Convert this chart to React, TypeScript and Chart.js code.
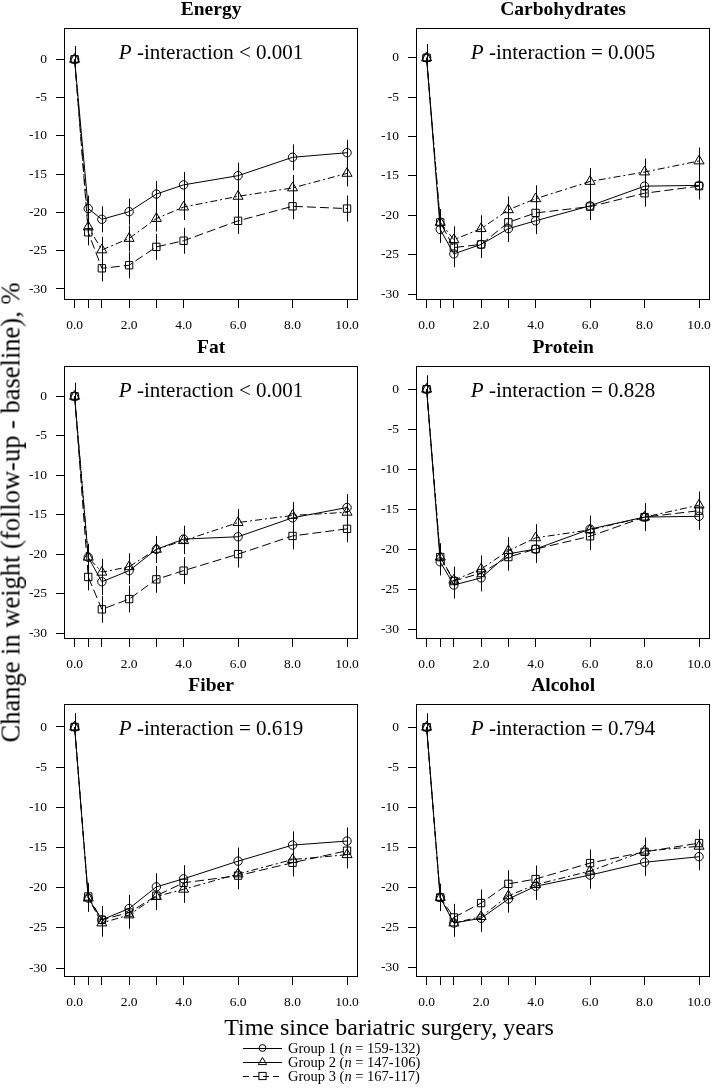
import React, { useEffect, useRef } from "react";
import { Chart, registerables } from "chart.js";

Chart.register(...registerables);

// ---------- data ----------
const years = [0, 0.5, 1, 2, 3, 4, 6, 8, 10];
const xTickValues = [0, 0.5, 1, 2, 3, 4, 6, 8, 10];
const xTickLabels = ["0.0", "", "", "2.0", "", "4.0", "6.0", "8.0", "10.0"];
const yTickValues = [0, -5, -10, -15, -20, -25, -30];
const yTickLabels = ["0", "-5", "-10", "-15", "-20", "-25", "-30"];

const groupNames = ["Group 1", "Group 2", "Group 3"];
const groupN = ["159-132", "147-106", "167-117"];

const energyG1 = [0, -19.5, -20.9, -19.9, -17.6, -16.4, -15.2, -12.8, -12.2];
const energyG2 = [0, -21.9, -24.9, -23.4, -20.8, -19.3, -17.9, -16.8, -14.9];
const energyG3 = [0, -22.6, -27.3, -26.9, -24.5, -23.7, -21.1, -19.2, -19.5];

const carbG1 = [0, -21.8, -24.9, -23.7, -21.7, -20.7, -18.8, -16.3, -16.2];
const carbG2 = [0, -20.9, -23.1, -21.7, -19.3, -17.9, -15.7, -14.5, -13.1];
const carbG3 = [0, -20.9, -24.1, -23.7, -20.9, -19.7, -18.9, -17.2, -16.3];

const fatG1 = [0, -20.4, -23.5, -22.1, -19.4, -18.1, -17.8, -15.4, -14.1];
const fatG2 = [0, -20.4, -22.3, -21.6, -19.4, -18.3, -16.0, -15.1, -14.7];
const fatG3 = [0, -22.9, -27.0, -25.7, -23.2, -22.1, -20.0, -17.7, -16.8];

const proteinG1 = [0, -21.6, -24.5, -23.6, -20.6, -20.0, -17.5, -16.0, -15.9];
const proteinG2 = [0, -21.0, -23.9, -22.5, -20.2, -18.6, -17.6, -16.0, -14.5];
const proteinG3 = [0, -21.0, -24.0, -23.0, -21.0, -20.0, -18.4, -16.0, -15.2];

const fiberG1 = [0, -21.3, -24.0, -22.6, -19.9, -18.9, -16.7, -14.7, -14.2];
const fiberG2 = [0, -21.3, -24.4, -23.4, -21.1, -20.2, -18.3, -16.5, -15.9];
const fiberG3 = [0, -21.1, -24.0, -23.1, -21.0, -19.4, -18.5, -16.9, -15.4];

const alcoholG1 = [0, -21.3, -24.5, -23.9, -21.5, -19.9, -18.5, -16.9, -16.2];
const alcoholG2 = [0, -21.3, -24.5, -23.7, -21.1, -19.7, -18.0, -15.5, -14.9];
const alcoholG3 = [0, -21.3, -23.8, -22.0, -19.6, -19.0, -17.0, -15.6, -14.5];

const ciHalfWidth = 1.7;

const panelTitles = ["Energy", "Carbohydrates", "Fat", "Protein", "Fiber", "Alcohol"];
const pValueTexts = ["< 0.001", "= 0.005", "< 0.001", "= 0.828", "= 0.619", "= 0.794"];
const panelSeries = [
  [energyG1, energyG2, energyG3],
  [carbG1, carbG2, carbG3],
  [fatG1, fatG2, fatG3],
  [proteinG1, proteinG2, proteinG3],
  [fiberG1, fiberG2, fiberG3],
  [alcoholG1, alcoholG2, alcoholG3],
];
const yAxisMax = [4.09, 3.79, 3.84, 2.9, 2.86, 2.9];
const yAxisMin = [-31.44, -30.76, -30.76, -31.25, -31.12, -31.25];
const xAxisMin = -0.39;
const xAxisMax = 10.41;

// ---------- layout / style ----------
const SERIF = '"Liberation Serif", "DejaVu Serif", serif';
const colLeft = [64, 416];
const colRight = [363, 715];
const rowTop = [28, 366, 704];
const rowBottom = [300, 639, 977];
const PAD_TOP = 30;
const Y_AXIS_W = 42;
const X_AXIS_H = 36;
const PAD_RIGHT = 2;

const groupStyles = [
  { pointStyle: "circle", radius: 4.2, dash: [] as number[] },
  { pointStyle: "triangle", radius: 5.8, dash: [7, 3, 2, 3] },
  { pointStyle: "rect", radius: 5.2, dash: [9, 4] },
];

function Panel({ idx }: { idx: number }) {
  const ref = useRef<HTMLCanvasElement | null>(null);
  const col = idx % 2;
  const row = Math.floor(idx / 2);
  const boxL = colLeft[col];
  const boxR = colRight[col];
  const boxT = rowTop[row];
  const boxB = rowBottom[row];
  const left = boxL - Y_AXIS_W;
  const top = boxT - PAD_TOP;
  const width = boxR - left + PAD_RIGHT;
  const height = PAD_TOP + (boxB - boxT) + X_AXIS_H;

  useEffect(() => {
    if (!ref.current) return;
    const series = panelSeries[idx];
    const tickFont = { family: SERIF, size: 13.5 };
    const decor = {
      id: "decor",
      afterDatasetsDraw(chart: any) {
        const ctx = chart.ctx;
        const ys = chart.scales.y;
        const xs = chart.scales.x;
        ctx.save();
        ctx.strokeStyle = "#000";
        ctx.lineWidth = 1;
        series.forEach((vals) => {
          vals.forEach((v, i) => {
            const px = Math.round(xs.getPixelForValue(years[i])) + 0.5;
            ctx.beginPath();
            ctx.moveTo(px, ys.getPixelForValue(v + ciHalfWidth));
            ctx.lineTo(px, ys.getPixelForValue(v - ciHalfWidth));
            ctx.stroke();
          });
        });
        ctx.restore();
      },
      afterDraw(chart: any) {
        const ctx = chart.ctx;
        const a = chart.chartArea;
        ctx.save();
        ctx.strokeStyle = "#000";
        ctx.lineWidth = 1;
        const l = Math.round(a.left) + 0.5;
        const t = Math.round(a.top) + 0.5;
        const r = Math.round(a.right) - 0.5;
        const b = Math.round(a.bottom) - 0.5;
        ctx.strokeRect(l, t, r - l, b - t);
        const cx = (a.left + a.right) / 2;
        ctx.fillStyle = "#000";
        ctx.textBaseline = "alphabetic";
        ctx.textAlign = "center";
        ctx.font = `bold 19.5px ${SERIF}`;
        ctx.fillText(panelTitles[idx], cx, a.top - 13);
        const fs = 21;
        const pPart = "P";
        const rest = " -interaction " + pValueTexts[idx];
        ctx.font = `italic ${fs}px ${SERIF}`;
        const w1 = ctx.measureText(pPart).width;
        ctx.font = `${fs}px ${SERIF}`;
        const w2 = ctx.measureText(rest).width;
        const x0 = cx - (w1 + w2) / 2;
        ctx.textAlign = "left";
        ctx.font = `italic ${fs}px ${SERIF}`;
        ctx.fillText(pPart, x0, a.top + 31);
        ctx.font = `${fs}px ${SERIF}`;
        ctx.fillText(rest, x0 + w1, a.top + 31);
        ctx.restore();
      },
    };

    const chart = new Chart(ref.current, {
      type: "line",
      data: {
        datasets: series.map((vals, g) => ({
          label: groupNames[g],
          data: years.map((x, i) => ({ x, y: vals[i] })),
          borderColor: "#000",
          borderWidth: 1,
          borderDash: groupStyles[g].dash,
          pointStyle: groupStyles[g].pointStyle as any,
          pointRadius: groupStyles[g].radius,
          pointBorderColor: "#000",
          pointBackgroundColor: "rgba(0,0,0,0)",
          pointBorderWidth: 1,
          fill: false,
          tension: 0,
        })),
      },
      options: {
        animation: false,
        responsive: false,
        devicePixelRatio: 1,
        events: [],
        layout: { padding: { top: PAD_TOP, right: PAD_RIGHT, left: 0, bottom: 0 } },
        plugins: {
          legend: { display: false },
          title: { display: false },
          tooltip: { enabled: false },
        },
        scales: {
          x: {
            type: "linear",
            min: xAxisMin,
            max: xAxisMax,
            afterBuildTicks: (axis: any) => {
              axis.ticks = xTickValues.map((v) => ({ value: v }));
            },
            afterFit: (axis: any) => {
              axis.height = X_AXIS_H;
              axis.paddingLeft = 0;
              axis.paddingRight = 0;
            },
            grid: {
              display: true,
              drawOnChartArea: false,
              drawTicks: true,
              tickLength: 8,
              color: "#000",
              lineWidth: 1,
            },
            border: { display: false },
            ticks: {
              autoSkip: false,
              maxRotation: 0,
              minRotation: 0,
              padding: 9,
              color: "#000",
              font: tickFont,
              callback: (v: any) => xTickLabels[xTickValues.indexOf(Number(v))] ?? "",
            },
          },
          y: {
            type: "linear",
            min: yAxisMin[idx],
            max: yAxisMax[idx],
            afterBuildTicks: (axis: any) => {
              axis.ticks = yTickValues.map((v) => ({ value: v }));
            },
            afterFit: (axis: any) => {
              axis.width = Y_AXIS_W;
              axis.paddingTop = 0;
              axis.paddingBottom = 0;
            },
            grid: {
              display: true,
              drawOnChartArea: false,
              drawTicks: true,
              tickLength: 8,
              color: "#000",
              lineWidth: 1,
            },
            border: { display: false },
            ticks: {
              padding: 9,
              color: "#000",
              font: tickFont,
              callback: (v: any) => yTickLabels[yTickValues.indexOf(Number(v))] ?? "",
            },
          },
        },
      },
      plugins: [decor],
    } as any);
    return () => chart.destroy();
  }, [idx]);

  return (
    <canvas
      ref={ref}
      width={width}
      height={height}
      style={{ position: "absolute", left, top, width, height }}
    />
  );
}

function LegendSymbol({ g }: { g: number }) {
  const cy = 7;
  const cx = 19.5;
  let marker: React.ReactNode = null;
  if (g === 0) marker = <circle cx={cx} cy={cy} r={3.4} fill="none" stroke="#000" strokeWidth={1} />;
  if (g === 1)
    marker = (
      <polygon
        points={`${cx},${cy - 4.6} ${cx - 4.2},${cy + 2.6} ${cx + 4.2},${cy + 2.6}`}
        fill="none"
        stroke="#000"
        strokeWidth={1}
      />
    );
  if (g === 2)
    marker = <rect x={cx - 3.6} y={cy - 3.6} width={7.2} height={7.2} fill="none" stroke="#000" strokeWidth={1} />;
  return (
    <svg width={40} height={14} style={{ position: "absolute", left: 243, top: 0 }}>
      <line
        x1={0}
        y1={cy + 0.5}
        x2={39}
        y2={cy + 0.5}
        stroke="#000"
        strokeWidth={1}
        strokeDasharray={g === 2 ? "6 4" : undefined}
      />
      {marker}
    </svg>
  );
}

export default function App() {
  return (
    <div
      style={{
        position: "absolute",
        left: 0,
        top: 0,
        width: 717,
        height: 1090,
        overflow: "hidden",
        background: "#fff",
        fontFamily: SERIF,
        color: "#000",
      }}
    >
      {panelTitles.map((_, i) => (
        <Panel key={i} idx={i} />
      ))}
      <div
        style={{
          position: "absolute",
          left: 11 - 300,
          top: 512.5 - 13.5,
          width: 600,
          height: 27,
          lineHeight: "27px",
          fontSize: 26.5,
          textAlign: "center",
          whiteSpace: "nowrap",
          transform: "rotate(-90deg)",
          transformOrigin: "50% 50%",
        }}
      >
        Change in weight (follow-up - baseline), %
      </div>
      <div
        style={{
          position: "absolute",
          left: 389 - 250,
          top: 1015,
          width: 500,
          height: 24,
          lineHeight: "24px",
          fontSize: 24,
          textAlign: "center",
          whiteSpace: "nowrap",
        }}
      >
        Time since bariatric surgery, years
      </div>
      {groupNames.map((name, g) => (
        <div
          key={g}
          style={{ position: "absolute", left: 0, top: 1041 + g * 14, width: 717, height: 14 }}
        >
          <LegendSymbol g={g} />
          <div
            style={{
              position: "absolute",
              left: 288,
              top: 0,
              height: 14,
              lineHeight: "14px",
              fontSize: 14.5,
              whiteSpace: "nowrap",
            }}
          >
            {name} (<i>n</i> = {groupN[g]})
          </div>
        </div>
      ))}
    </div>
  );
}
